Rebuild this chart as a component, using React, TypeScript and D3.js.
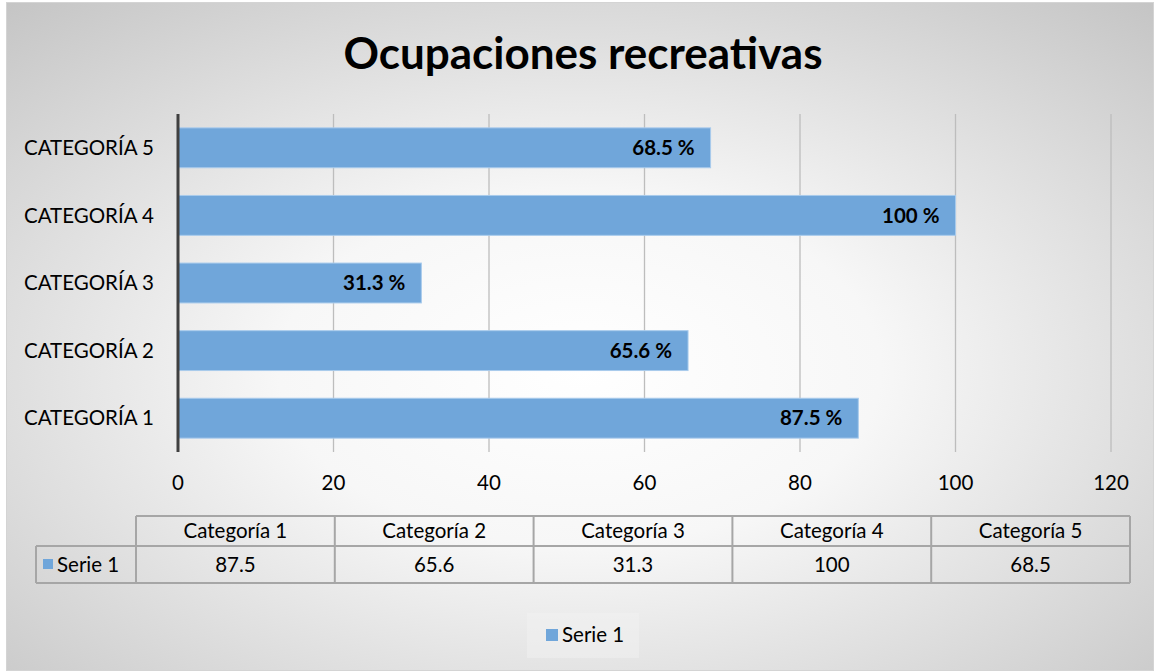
import React from "react";
import * as d3 from "d3";

const title = "Ocupaciones recreativas";
const categories = ["Categoría 1", "Categoría 2", "Categoría 3", "Categoría 4", "Categoría 5"];
const axisLabels = ["CATEGORÍA 1", "CATEGORÍA 2", "CATEGORÍA 3", "CATEGORÍA 4", "CATEGORÍA 5"];
const seriesName = "Serie 1";
const values = [87.5, 65.6, 31.3, 100, 68.5];
const xTicks = [0, 20, 40, 60, 80, 100, 120];

const W = 1154;
const H = 671;
const FONT = "Lato, 'Open Sans', sans-serif";
const BAR = "#70a6da";
const FS = 20.5;

export default function App() {
  const x = d3.scaleLinear().domain([0, 120]).range([178, 1111]);
  const y = d3
    .scaleBand<string>()
    .domain([...categories].reverse())
    .range([114, 452])
    .paddingInner(0.41)
    .paddingOuter(0.205);
  const colX = d3.scaleBand<string>().domain(categories).range([136, 1130]);
  const tTop = 516, tMid = 546, tBot = 583;

  return (
    <svg width={W} height={H} style={{ position: "absolute", left: 0, top: 0 }} fontFamily={FONT}>
      <defs>
        <radialGradient id="bg" cx="0.5" cy="0.55" r="0.75" gradientUnits="objectBoundingBox">
          <stop offset="0" stopColor="#ffffff" />
          <stop offset="0.35" stopColor="#f7f7f7" />
          <stop offset="1" stopColor="#c4c4c4" />
        </radialGradient>
      </defs>
      <rect x={0} y={0} width={W} height={H} fill="#ffffff" />
      <rect x={6.5} y={2.5} width={W - 7} height={H - 3} fill="url(#bg)" stroke="#d4d4d4" />
      <text x={583} y={69} textAnchor="middle" fontSize={44} fontWeight="bold" fill="#000">
        {title}
      </text>
      {xTicks.slice(1).map((t) => (
        <line key={t} x1={x(t)} x2={x(t)} y1={114} y2={452} stroke="#bdbdbd" strokeWidth={1.3} />
      ))}
      {categories.map((c, i) => (
        <rect
          key={c}
          x={x(0)}
          y={y(c)!}
          width={x(values[i]) - x(0)}
          height={y.bandwidth()}
          fill={BAR}
          stroke="#a9cbec"
          strokeWidth={1}
        />
      ))}
      {categories.map((c, i) => (
        <text
          key={c}
          x={x(values[i]) - 16}
          y={y(c)! + y.bandwidth() / 2}
          dy="0.35em"
          textAnchor="end"
          fontSize={FS}
          fontWeight="bold"
          fill="#000"
        >
          {`${values[i]} %`}
        </text>
      ))}
      <line x1={x(0)} x2={x(0)} y1={114} y2={452} stroke="#404040" strokeWidth={3} />
      {categories.map((c, i) => (
        <text
          key={c}
          x={154}
          y={y(c)! + y.bandwidth() / 2}
          dy="0.35em"
          textAnchor="end"
          fontSize={FS}
          fill="#000"
        >
          {axisLabels[i]}
        </text>
      ))}
      {xTicks.map((t) => (
        <text key={t} x={x(t)} y={483} dy="0.35em" textAnchor="middle" fontSize={FS} fill="#000">
          {t}
        </text>
      ))}
      <g stroke="#a6a6a6" strokeWidth={2} fill="none">
        <line x1={136} x2={1130} y1={tTop} y2={tTop} />
        <line x1={36} x2={1130} y1={tMid} y2={tMid} />
        <line x1={36} x2={1130} y1={tBot} y2={tBot} />
        <line x1={36} x2={36} y1={tMid} y2={tBot} />
        {categories.map((c) => (
          <line key={c} x1={colX(c)!} x2={colX(c)!} y1={tTop} y2={tBot} />
        ))}
        <line x1={1130} x2={1130} y1={tTop} y2={tBot} />
      </g>
      {categories.map((c, i) => (
        <g key={c}>
          <text
            x={colX(c)! + colX.bandwidth() / 2}
            y={(tTop + tMid) / 2}
            dy="0.35em"
            textAnchor="middle"
            fontSize={FS}
            fill="#000"
          >
            {c}
          </text>
          <text
            x={colX(c)! + colX.bandwidth() / 2}
            y={(tMid + tBot) / 2}
            dy="0.35em"
            textAnchor="middle"
            fontSize={FS}
            fill="#000"
          >
            {values[i]}
          </text>
        </g>
      ))}
      <rect x={43} y={559} width={10} height={10} fill={BAR} />
      <text x={57} y={(tMid + tBot) / 2} dy="0.35em" fontSize={FS} fill="#000">
        {seriesName}
      </text>
      <rect x={527} y={613} width={112} height={45} fill="#f2f2f2" opacity={0.5} />
      <rect x={546} y={629} width={12} height={12} fill={BAR} />
      <text x={562} y={635} dy="0.35em" fontSize={FS} fill="#000">
        {seriesName}
      </text>
    </svg>
  );
}
